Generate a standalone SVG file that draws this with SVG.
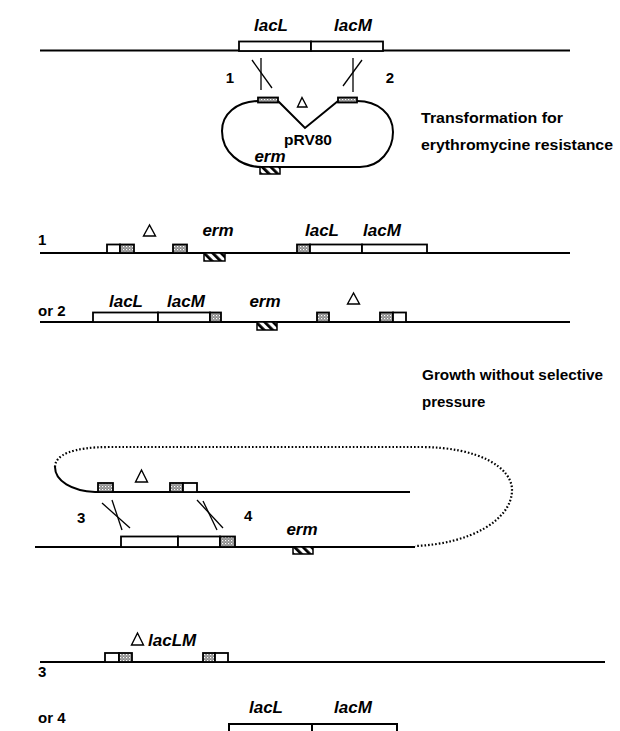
<svg xmlns="http://www.w3.org/2000/svg" width="620" height="731" viewBox="0 0 620 731">
<defs>
<pattern id="stip" width="3" height="3" patternUnits="userSpaceOnUse">
<rect width="3" height="3" fill="#8a8a8a"/>
<rect x="0" y="0" width="1.2" height="1.2" fill="#fff"/>
<rect x="1.5" y="1.5" width="1" height="1" fill="#ddd"/>
</pattern>
<pattern id="hatch" width="6" height="6" patternUnits="userSpaceOnUse" patternTransform="rotate(-45)">
<rect width="6" height="6" fill="#fff"/>
<rect x="0" y="0" width="2.8" height="6" fill="#000"/>
</pattern>
</defs>
<style>
.ln{stroke:#000;stroke-width:2;fill:none}
.th{stroke:#000;stroke-width:1.3;fill:none}
.bx{fill:#fff;stroke:#000;stroke-width:1.8}
.st{fill:url(#stip);stroke:#000;stroke-width:1.8}
.ht{fill:url(#hatch);stroke:#000;stroke-width:1.5}
.tri{fill:none;stroke:#000;stroke-width:1.4}
.g{font-family:"Liberation Sans",Arial,sans-serif;font-weight:bold;font-style:italic;font-size:17px;fill:#000}
.n{font-family:"Liberation Sans",Arial,sans-serif;font-weight:bold;font-size:15px;fill:#000}
.t{font-family:"Liberation Sans",Arial,sans-serif;font-weight:bold;font-size:15px;fill:#000}
.p{font-family:"Liberation Sans",Arial,sans-serif;font-weight:bold;font-size:15.5px;fill:#000}
</style>

<g id="connectors">
<line class="th" x1="261" y1="58" x2="261" y2="90"/>
<line class="th" x1="252" y1="60" x2="272" y2="88"/>
<line class="th" x1="353" y1="58" x2="353" y2="92"/>
<line class="th" x1="362" y1="60" x2="343" y2="86"/>
<line class="th" x1="102" y1="503" x2="130" y2="528"/>
<line class="th" x1="112" y1="500" x2="122" y2="530"/>
<line class="th" x1="197" y1="500" x2="223" y2="528"/>
<line class="th" x1="203" y1="501" x2="217" y2="530"/>
</g>

<g id="chromosome-top">
<line class="ln" x1="40" y1="50.5" x2="570" y2="50.5"/>
<rect class="bx" x="239" y="41.5" width="72" height="9.5"/>
<rect class="bx" x="311" y="41.5" width="72" height="9.5"/>
<text class="g" x="271" y="31" text-anchor="middle">lacL</text>
<text class="g" x="353" y="31" text-anchor="middle">lacM</text>
<text class="n" x="230" y="83" text-anchor="middle">1</text>
<text class="n" x="390" y="83" text-anchor="middle">2</text>
</g>

<g id="plasmid">
<path class="ln" d="M258,101 C236,102 222,114 222,131 C222,152 240,167 262,167 L360,167 C380,167 393,150 393,132 C393,114 378,101 357,101"/>
<path class="ln" d="M278,101 L305,128 L338,101"/>
<rect class="st" x="258" y="97.5" width="20" height="5"/>
<rect class="st" x="338" y="97.5" width="19" height="5"/>
<path class="tri" d="M302,97.5 L297.5,107 L307,107 Z"/>
<text class="p" x="308" y="145" text-anchor="middle">pRV80</text>
<text class="g" x="270" y="162" text-anchor="middle">erm</text>
<rect class="ht" x="260" y="167" width="20" height="7"/>
</g>

<g id="label-transformation">
<text class="t" x="421" y="123" textLength="142" lengthAdjust="spacingAndGlyphs">Transformation for</text>
<text class="t" x="421" y="150" textLength="192" lengthAdjust="spacingAndGlyphs">erythromycine resistance</text>
</g>

<g id="row1">
<text class="n" x="38" y="245">1</text>
<line class="ln" x1="40" y1="253" x2="570" y2="253"/>
<rect class="bx" x="107" y="244.5" width="13" height="8.5"/>
<rect class="st" x="120" y="244.5" width="14" height="8.5"/>
<rect class="st" x="173" y="244.5" width="14" height="8.5"/>
<rect class="ht" x="204" y="253" width="21" height="8"/>
<path class="tri" d="M149.5,225 L143.5,236 L155.5,236 Z"/>
<text class="g" x="218" y="236" text-anchor="middle">erm</text>
<rect class="st" x="297" y="244.5" width="13" height="8.5"/>
<rect class="bx" x="310" y="244.5" width="52" height="8.5"/>
<rect class="bx" x="362" y="244.5" width="65" height="8.5"/>
<text class="g" x="322" y="236" text-anchor="middle">lacL</text>
<text class="g" x="382" y="236" text-anchor="middle">lacM</text>
</g>

<g id="row2">
<text class="n" x="38" y="316">or 2</text>
<line class="ln" x1="40" y1="322" x2="570" y2="322"/>
<rect class="bx" x="93" y="312.5" width="65" height="9.5"/>
<rect class="bx" x="158" y="312.5" width="52" height="9.5"/>
<rect class="st" x="210" y="312.5" width="11" height="9.5"/>
<text class="g" x="126" y="307" text-anchor="middle">lacL</text>
<text class="g" x="186" y="307" text-anchor="middle">lacM</text>
<text class="g" x="265" y="307" text-anchor="middle">erm</text>
<rect class="ht" x="257" y="322" width="20" height="8"/>
<rect class="st" x="317" y="312.5" width="12" height="9.5"/>
<path class="tri" d="M353.5,293 L347.5,304 L359.5,304 Z"/>
<rect class="st" x="380" y="312.5" width="13" height="9.5"/>
<rect class="bx" x="393" y="312.5" width="13" height="9.5"/>
</g>

<g id="label-growth">
<text class="t" x="422" y="380" textLength="181" lengthAdjust="spacingAndGlyphs">Growth without selective</text>
<text class="t" x="422" y="407">pressure</text>
</g>

<g id="row3">
<path class="ln" d="M410,492 L95,492 C72,491 55,481 55,467"/>
<path d="M55,467 C55,455 72,447 110,447 L420,447 C480,447 512,468 512,490 C512,520 470,544 415,546" fill="none" stroke="#000" stroke-width="2.2" stroke-dasharray="1.6,2"/>
<rect class="st" x="98" y="483" width="15" height="9"/>
<path class="tri" d="M141.5,470 L135.5,482 L147.5,482 Z"/>
<rect class="st" x="170" y="483" width="13" height="9"/>
<rect class="bx" x="183" y="483" width="14" height="9"/>
<text class="n" x="77" y="523">3</text>
<text class="n" x="244" y="521">4</text>
<line class="ln" x1="35" y1="547" x2="415" y2="547"/>
<rect class="bx" x="121" y="536.5" width="57" height="10.5"/>
<rect class="bx" x="178" y="536.5" width="42" height="10.5"/>
<rect class="st" x="220" y="536.5" width="15" height="10.5"/>
<text class="g" x="302" y="535" text-anchor="middle">erm</text>
<rect class="ht" x="293" y="547" width="20" height="7"/>
</g>

<g id="row4">
<text class="n" x="38" y="677">3</text>
<line class="ln" x1="40" y1="662" x2="605" y2="662"/>
<rect class="bx" x="105" y="653" width="14" height="9"/>
<rect class="st" x="119" y="653" width="13" height="9"/>
<rect class="st" x="203" y="653" width="12" height="9"/>
<rect class="bx" x="215" y="653" width="13" height="9"/>
<path class="tri" d="M137.5,633 L131.5,645 L143.5,645 Z"/>
<text class="g" x="148" y="646">lacLM</text>
</g>

<g id="row5">
<text class="n" x="38" y="723">or 4</text>
<path class="ln" d="M229,740 L229,724 L397,724 L397,740 M312,724 L312,740"/>
<text class="g" x="266" y="713" text-anchor="middle">lacL</text>
<text class="g" x="353" y="713" text-anchor="middle">lacM</text>
</g>
</svg>
